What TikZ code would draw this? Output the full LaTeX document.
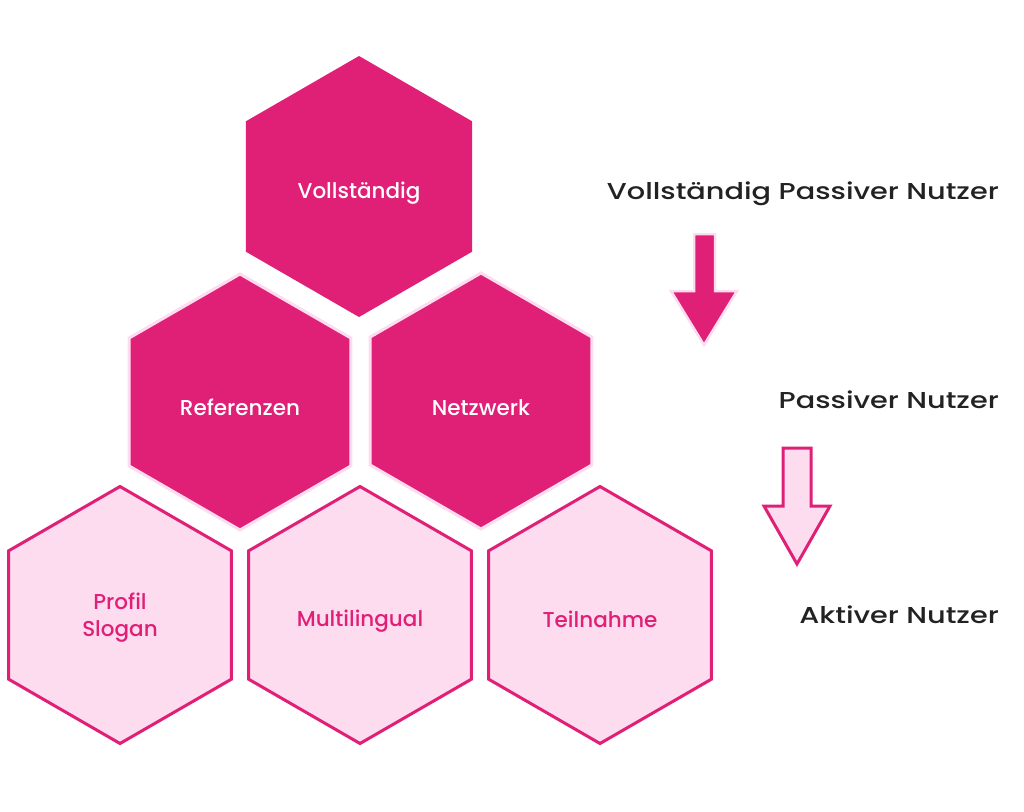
\documentclass[tikz,border=0pt]{standalone}
\usepackage{fontspec}
\setmainfont{Poppins}
\newfontfamily\hexfont{Poppins Medium}
\newfontfamily\sidefont{Poppins Medium}[FakeStretch=1.25]
\usetikzlibrary{shapes.geometric}
\definecolor{hotpink}{HTML}{E01F76}
\definecolor{palepink}{HTML}{FEDCF0}
\definecolor{inkgray}{HTML}{222222}
\begin{document}
\begin{tikzpicture}[x=1pt,y=-1pt,
  hexbase/.style={regular polygon, regular polygon sides=6, shape border rotate=30,
    inner sep=0pt, outer sep=0pt},
  hextop/.style={hexbase, fill=hotpink, minimum size=261pt},
  hexmid/.style={hexbase, fill=hotpink, draw=palepink, line width=3pt, minimum size=256pt},
  hexlow/.style={hexbase, fill=palepink, draw=hotpink, line width=3pt, minimum size=257pt},
  darklabel/.style={font=\hexfont\fontsize{21.5}{26}\selectfont, text=white, anchor=base, inner sep=0pt},
  lightlabel/.style={font=\hexfont\fontsize{21.5}{26}\selectfont, text=hotpink, anchor=base, inner sep=0pt},
  sidelabel/.style={font=\sidefont\fontsize{23}{27}\selectfont, text=inkgray, anchor=base east, inner sep=0pt},
  darkarrow/.style={fill=hotpink, draw=palepink, line width=2.5pt, line join=miter},
  lightarrow/.style={fill=palepink, draw=hotpink, line width=3pt, line join=miter}
]
\useasboundingbox (0,0) rectangle (1024,811);

% hexagons
\node[hextop] (h1) at (359,186.5) {};
\node[hexmid] (h2) at (240,402) {};
\node[hexmid] (h3) at (481,401) {};
\node[hexlow] (h4) at (120,615) {};
\node[hexlow] (h5) at (360,615) {};
\node[hexlow] (h6) at (600,615) {};

% hexagon labels
\node[darklabel] (l1) at (359,198) {Vollständig};
\node[darklabel] (l2) at (240,415) {Referenzen};
\node[darklabel] (l3) at (481,415) {Netzwerk};
\node[lightlabel] (l4a) at (120,609) {Profil};
\node[lightlabel] (l4b) at (120,636) {Slogan};
\node[lightlabel] (l5) at (360,626) {Multilingual};
\node[lightlabel] (l6) at (600,627) {Teilnahme};

% side labels
\node[sidelabel] (s1) at (999,199) {Vollständig Passiver Nutzer};
\node[sidelabel] (s2) at (999,408) {Passiver Nutzer};
\node[sidelabel] (s3) at (999,623) {Aktiver Nutzer};

% arrows
\draw[darkarrow] (694,234) -- (715,234) -- (715,291) -- (737,291) -- (704,345)
  -- (671,291) -- (694,291) -- cycle;
\draw[lightarrow] (783,448) -- (811,448) -- (811,506) -- (830,506) -- (797,564)
  -- (764,506) -- (783,506) -- cycle;
\end{tikzpicture}
\end{document}
